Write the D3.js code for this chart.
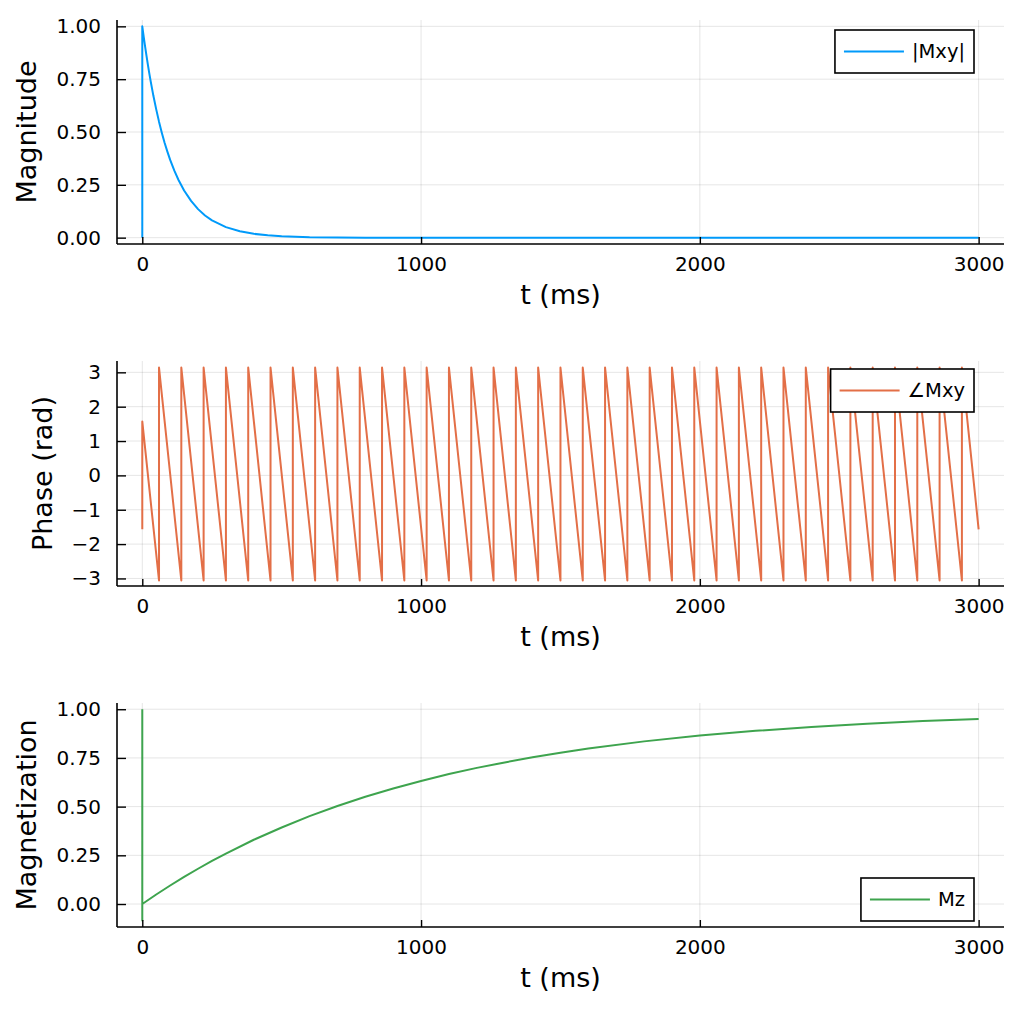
<!DOCTYPE html>
<html><head><meta charset="utf-8">
<script src="https://cdn.jsdelivr.net/npm/d3@7/dist/d3.min.js"></script>
<style>body{margin:0;background:#fff;} svg{display:block;font-family:"DejaVu Sans",sans-serif;}</style>
</head><body>
<svg id="c" width="1024" height="1024"></svg>
<script>
// ---- data ----
const xTicks = [0, 1000, 2000, 3000];
const unitTicks = [0, 0.25, 0.5, 0.75, 1.0];
const phaseTicks = [-3, -2, -1, 0, 1, 2, 3];

// |Mxy| (decay)
const magT = [0, 0, 5, 10, 15, 20, 25, 30, 40, 50, 60, 70, 80, 90, 100, 115, 130, 150, 175, 200, 225, 250, 300, 350, 400, 450, 500, 600, 700, 800, 1000, 1500, 2000, 2500, 3000];
const magV = [0, 1.0, 0.951, 0.905, 0.861, 0.819, 0.779, 0.741, 0.670, 0.607, 0.549, 0.497, 0.449, 0.407, 0.368, 0.317, 0.273, 0.223, 0.174, 0.135, 0.105, 0.082, 0.050, 0.030, 0.018, 0.011, 0.007, 0.002, 0.001, 0.0, 0.0, 0.0, 0.0, 0.0, 0.0];

// ∠Mxy (sawtooth): start, wrap times, end
const phaseStartT = [0, 0];
const phaseStartV = [-1.57, 1.57];
const phaseWrapT = [60, 140, 220, 300, 380, 460, 540, 620, 700, 780, 860, 940, 1020, 1100, 1180, 1260, 1340, 1420, 1500, 1580, 1660, 1740, 1820, 1900, 1980, 2060, 2140, 2220, 2300, 2380, 2460, 2540, 2620, 2700, 2780, 2860, 2940];
const phaseLow = -3.06;
const phaseHigh = 3.14;
const phaseEndT = [3000];
const phaseEndV = [-1.57];

// Mz (recovery)
const mzT = [0, 0, 0, 50, 100, 150, 200, 250, 300, 400, 500, 600, 700, 800, 900, 1000, 1100, 1200, 1300, 1400, 1500, 1600, 1800, 2000, 2200, 2400, 2600, 2800, 3000];
const mzV = [1.0, -0.085, 0.0, 0.049, 0.095, 0.139, 0.181, 0.221, 0.259, 0.330, 0.393, 0.451, 0.503, 0.551, 0.593, 0.632, 0.667, 0.699, 0.727, 0.753, 0.777, 0.798, 0.835, 0.865, 0.889, 0.909, 0.926, 0.939, 0.950];

// build phase series table
const phasePts = [];
phaseStartT.forEach((t, i) => phasePts.push([t, phaseStartV[i]]));
phaseWrapT.forEach(t => { phasePts.push([t, phaseLow]); phasePts.push([t, phaseHigh]); });
phaseEndT.forEach((t, i) => phasePts.push([t, phaseEndV[i]]));

const panels = [
  {pts: magT.map((t, i) => [t, magV[i]]), color: "#009AFA", ylabel: "Magnitude", legend: "|Mxy|",
   top: 20, bottom: 244, ydom: [-0.03, 1.03], yticks: unitTicks, fmt: d3.format(".2f"), legPos: "top", legInset: 10},
  {pts: phasePts, color: "#E36F47", ylabel: "Phase (rad)", legend: "∠Mxy",
   top: 361, bottom: 586, ydom: [-3.22, 3.33], yticks: phaseTicks, fmt: d => d < 0 ? "\u2212" + Math.abs(d) : String(d), legPos: "top", legInset: 8},
  {pts: mzT.map((t, i) => [t, mzV[i]]), color: "#3EA44E", ylabel: "Magnetization", legend: "Mz",
   top: 703, bottom: 927, ydom: [-0.118, 1.032], yticks: unitTicks, fmt: d3.format(".2f"), legPos: "bottom", legInset: 6}
];

const left = 117, right = 1004;
const tickFont = 20, guideFont = 27, legFont = 19.5;
const svg = d3.select("#c");
const x = d3.scaleLinear().domain([-90.7, 3091]).range([left, right]);

panels.forEach(p => {
  const g = svg.append("g");
  const y = d3.scaleLinear().domain(p.ydom).range([p.bottom, p.top]);
  // grid
  g.append("g").selectAll("line").data(xTicks).join("line")
    .attr("x1", d => x(d)).attr("x2", d => x(d)).attr("y1", p.top).attr("y2", p.bottom)
    .attr("stroke", "#000").attr("stroke-opacity", 0.1).attr("stroke-width", 1);
  g.append("g").selectAll("line").data(p.yticks).join("line")
    .attr("x1", left).attr("x2", right).attr("y1", d => y(d)).attr("y2", d => y(d))
    .attr("stroke", "#000").attr("stroke-opacity", 0.1).attr("stroke-width", 1);
  // line
  g.append("path").datum(p.pts)
    .attr("d", d3.line().x(d => x(d[0])).y(d => y(d[1])).curve(d3.curveLinear))
    .attr("fill", "none").attr("stroke", p.color).attr("stroke-width", 2).attr("stroke-linejoin", "round");
  // axes
  const xa = g.append("g").attr("transform", `translate(0,${p.bottom})`)
    .call(d3.axisBottom(x).tickValues(xTicks).tickSizeInner(-7).tickSizeOuter(0).tickPadding(14).tickFormat(d3.format("d")));
  const ya = g.append("g").attr("transform", `translate(${left},0)`)
    .call(d3.axisLeft(y).tickValues(p.yticks).tickSizeInner(-9).tickSizeOuter(0).tickPadding(16).tickFormat(p.fmt));
  [xa, ya].forEach(a => {
    a.select(".domain").attr("stroke", "#000").attr("stroke-width", 1.6);
    a.selectAll(".tick line").attr("stroke", "#000").attr("stroke-width", 1.4);
    a.selectAll(".tick text").attr("font-size", tickFont).attr("fill", "#000").attr("font-family", "DejaVu Sans");
  });
  xa.select(".domain").attr("d", `M${left},0H${right}`);
  ya.select(".domain").attr("d", `M0,${p.top}V${p.bottom}`);
  xa.selectAll(".tick text").attr("dy", "0.71em").attr("y", 13);
  // x label
  g.append("text").attr("x", (left + right) / 2).attr("y", p.bottom + 60)
    .attr("text-anchor", "middle").attr("font-size", guideFont).text("t (ms)");
  // y label
  const bb = ya.node().getBBox();
  const lx = left + bb.x - 20;
  g.append("text").attr("transform", `translate(${lx},${(p.top + p.bottom) / 2}) rotate(-90)`)
    .attr("text-anchor", "middle").attr("font-size", guideFont).text(p.ylabel);
  // legend
  const lg = g.append("g");
  const txt = lg.append("text").attr("font-size", legFont).text(p.legend);
  const tw = txt.node().getComputedTextLength();
  const bw = 9 + 60 + 8 + tw + 9, bh = 43;
  const bx = right - 30 - bw;
  const by = p.legPos === "top" ? p.top + p.legInset : p.bottom - p.legInset - bh;
  lg.insert("rect", "text").attr("x", bx).attr("y", by).attr("width", bw).attr("height", bh)
    .attr("fill", "#fff").attr("stroke", "#000").attr("stroke-width", 1.6);
  lg.append("line").attr("x1", bx + 9).attr("x2", bx + 69).attr("y1", by + bh / 2).attr("y2", by + bh / 2)
    .attr("stroke", p.color).attr("stroke-width", 2);
  txt.attr("x", bx + 77).attr("y", by + bh / 2).attr("dy", "0.35em");
});
</script>
</body></html>
